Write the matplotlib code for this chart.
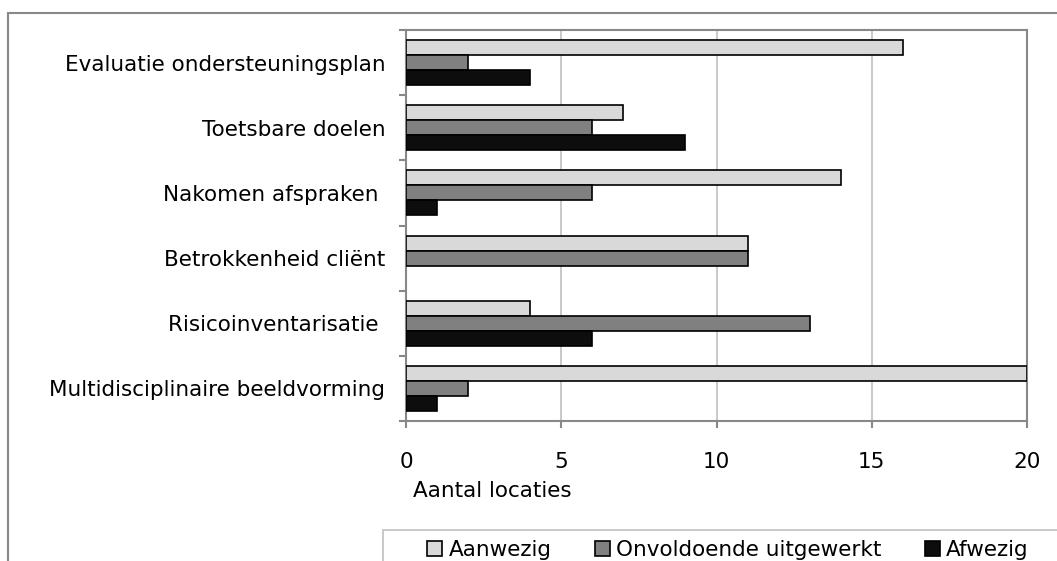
import numpy as np
import matplotlib.pyplot as plt
from matplotlib.patches import Rectangle

# categories bottom -> top
categories = ["Multidisciplinaire beeldvorming", "Risicoinventarisatie ",
              "Betrokkenheid cliënt", "Nakomen afspraken ",
              "Toetsbare doelen", "Evaluatie ondersteuningsplan"]
aanwezig = [20, 4, 11, 14, 7, 16]
onvoldoende = [2, 13, 11, 6, 6, 2]
afwezig = [1, 6, 0, 1, 9, 4]
series_names = ["Aanwezig", "Onvoldoende uitgewerkt", "Afwezig"]
colors = ["#d9d9d9", "#808080", "#0d0d0d"]

W, H = 1057, 561
fs = 15.5
fig = plt.figure(figsize=(W / 100, H / 100), dpi=100)
plt.rcParams['font.family'] = ['DejaVu Sans']

# outer chart frame
fig.patches.append(Rectangle((8 / W, -0.1), 1.2, 1 - 13 / H + 0.1,
                             transform=fig.transFigure, fill=False,
                             edgecolor="#888888", linewidth=1.5))

ax = fig.add_axes([406 / W, 1 - 421 / H, (1027 - 406) / W, (421 - 30) / H])

y = np.arange(len(categories))
h = 0.23
data = [aanwezig, onvoldoende, afwezig]
handles = []
for i, (vals, c, name) in enumerate(zip(data, colors, series_names)):
    lw = [1.2 if v > 0 else 0 for v in vals]
    b = ax.barh(y + (1 - i) * h, vals, height=h, color=c,
                edgecolor="black", linewidth=lw, label=name, zorder=3)
    handles.append(b)

ax.set_xlim(0, 20)
ax.set_ylim(-0.5, len(categories) - 0.5)
ax.set_xticks([0, 5, 10, 15, 20])
ax.set_yticks(y)
ax.set_yticklabels(categories, fontsize=fs)
ax.set_yticks(np.arange(-0.5, len(categories), 1), minor=True)
ax.tick_params(axis='y', which='major', length=0, pad=15)
ax.tick_params(axis='y', which='minor', length=5, color="#888888", width=1.5)
ax.tick_params(axis='x', length=5, color="#888888", width=1.5,
               labelsize=fs, pad=17)
ax.grid(axis='x', color="#c0c0c0", linewidth=1.2, zorder=0)
for s in ax.spines.values():
    s.set_color("#888888")
    s.set_linewidth(1.5)

fig.text(413 / W, 1 - 491 / H, "Aantal locaties", fontsize=fs,
         ha='left', va='center')

# legend frame
fig.patches.append(Rectangle((383 / W, -0.1), 1.0, 0.1 + 1 - 530 / H,
                             transform=fig.transFigure, fill=False,
                             edgecolor="#c0c0c0", linewidth=1.2))
fig.legend(handles=handles, labels=series_names, loc='center',
           bbox_to_anchor=(728 / W, 1 - 550 / H), ncol=3, frameon=False,
           fontsize=fs, handlelength=0.7, handleheight=0.7,
           handletextpad=0.3, columnspacing=2.0, borderpad=0)

fig.savefig("out.png", dpi=100)
